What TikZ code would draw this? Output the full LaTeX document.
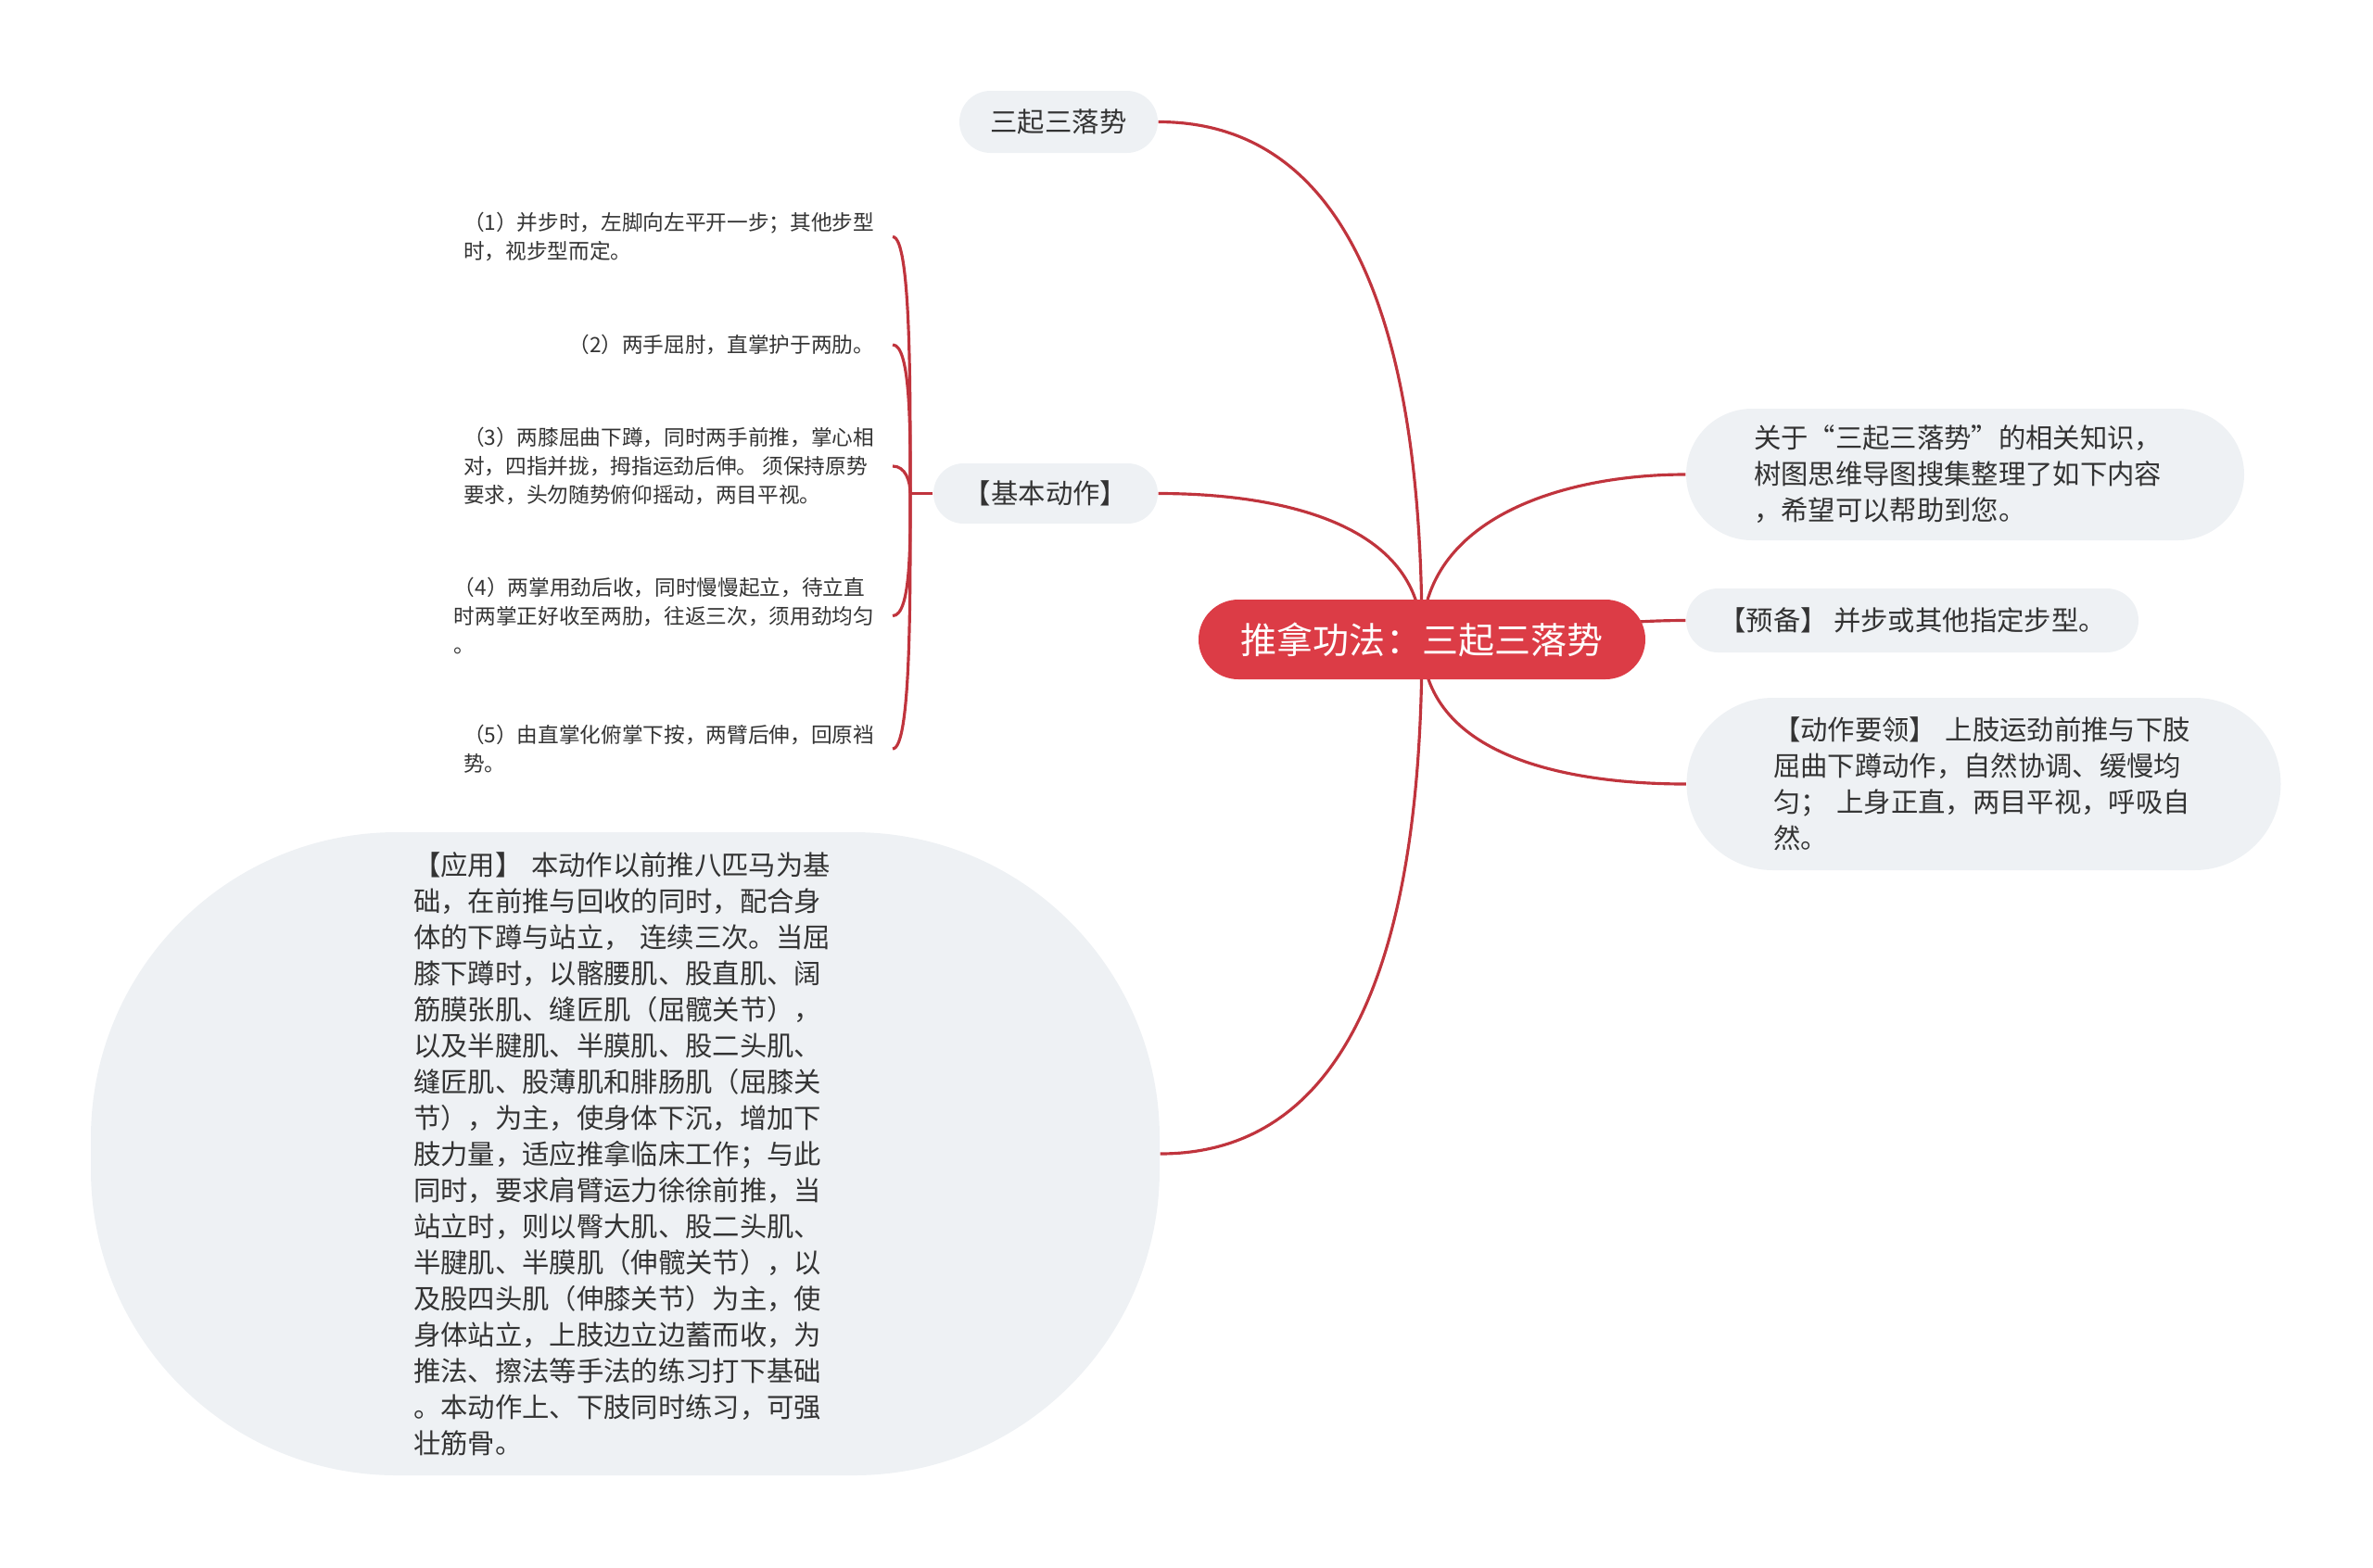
\documentclass[tikz,border=0pt]{standalone}
\usepackage{fontspec}
\setmainfont{Noto Sans CJK SC}
\usepackage{xcolor}
\usetikzlibrary{backgrounds}

\definecolor{linered}{HTML}{C0343D}
\definecolor{rootred}{HTML}{DC3C46}
\definecolor{topicgrey}{HTML}{EEF1F4}
\definecolor{textgrey}{HTML}{333333}

\begin{document}
\begin{tikzpicture}[
        link/.style={draw=linered, line width=0.9pt},
        topic/.style={fill=topicgrey, text=textgrey, align=left, inner ysep=0pt, font=\fontsize{8.35}{11.1}\selectfont},
        leaf/.style={anchor=east, text=textgrey, align=left, inner xsep=0.19cm, font=\fontsize{6.45}{8.8}\selectfont}
    ]
        \useasboundingbox (0,0) rectangle (25.6,-16.91);

        %% Root
        \node (root) [fill=rootred, text=white, rounded corners=0.43cm, minimum width=4.82cm, minimum height=0.86cm, font=\fontsize{11.1}{14}\selectfont] at (15.34,-6.90) {推拿功法：三起三落势};

        %% Left topics
        \node (sanqi) [topic, minimum width=2.14cm, minimum height=0.67cm, rounded corners=0.335cm] at (11.42,-1.315) {三起三落势};
        \node (jiben) [topic, minimum width=2.42cm, minimum height=0.65cm, rounded corners=0.325cm] at (11.28,-5.325) {【基本动作】};
        \node (yingyong) [topic, text width=4.57cm, minimum width=11.53cm, minimum height=6.94cm, rounded corners=3.3cm] at (6.745,-12.45) {【应用】 本动作以前推八匹马为基\\础，在前推与回收的同时，配合身\\体的下蹲与站立， 连续三次。当屈\\膝下蹲时，以髂腰肌、股直肌、阔\\筋膜张肌、缝匠肌（屈髋关节），\\以及半腱肌、半膜肌、股二头肌、\\缝匠肌、股薄肌和腓肠肌（屈膝关\\节），为主，使身体下沉，增加下\\肢力量，适应推拿临床工作；与此\\同时，要求肩臂运力徐徐前推，当\\站立时，则以臀大肌、股二头肌、\\半腱肌、半膜肌（伸髋关节），以\\及股四头肌（伸膝关节）为主，使\\身体站立，上肢边立边蓄而收，为\\推法、擦法等手法的练习打下基础\\。本动作上、下肢同时练习，可强\\壮筋骨。};

        %% Right topics
        \node (intro) [topic, text width=4.56cm, minimum width=6.02cm, minimum height=1.42cm, rounded corners=0.71cm] at (21.20,-5.12) {关于“三起三落势”的相关知识，\\树图思维导图搜集整理了如下内容\\，希望可以帮助到您。};
        \node (yubei) [topic, minimum width=4.88cm, minimum height=0.69cm, rounded corners=0.345cm] at (20.63,-6.695) {【预备】 并步或其他指定步型。};
        \node (yaoling) [topic, text width=4.54cm, minimum width=6.41cm, minimum height=1.86cm, rounded corners=0.93cm] at (21.40,-8.46) {【动作要领】 上肢运劲前推与下肢\\屈曲下蹲动作，自然协调、缓慢均\\匀； 上身正直，两目平视，呼吸自\\然。};

        %% Basic movements
        \node (l1) [leaf] at (9.63,-2.555) {（1）并步时，左脚向左平开一步；其他步型\\时，视步型而定。};
        \node (l2) [leaf] at (9.63,-3.72) {（2）两手屈肘，直掌护于两肋。};
        \node (l3) [leaf] at (9.63,-5.03) {（3）两膝屈曲下蹲，同时两手前推，掌心相\\对，四指并拢，拇指运劲后伸。 须保持原势\\要求，头勿随势俯仰摇动，两目平视。};
        \node (l4) [leaf] at (9.63,-6.645) {（4）两掌用劲后收，同时慢慢起立，待立直\\时两掌正好收至两肋，往返三次，须用劲均匀\\。};
        \node (l5) [leaf] at (9.63,-8.08) {（5）由直掌化俯掌下按，两臂后伸，回原裆\\势。};
        \coordinate (jb) at (9.82,-5.325);

        %% Links to the leaves
        \draw [link] (jiben.west) -- (jb);
        \foreach \l in {l1,l2,l3}
            \draw [link] (jb) to [out=90, in=0, in max distance=0.2cm] (\l.east);
        \foreach \l in {l4,l5}
            \draw [link] (jb) to [out=-90, in=0, in max distance=0.2cm] (\l.east);

        %% Links from the root
        \begin{scope}[on background layer]
            \draw [link] (root.center) to [out=90, in=0] (sanqi.east);
            \draw [link] (root.center) to [out=90, in=0] (jiben.east);
            \draw [link] (root.center) to [out=90, in=180] (intro.west);
            \draw [link] (root.center) to [out=0, in=180] (yubei.west);
            \draw [link] (root.center) to [out=-90, in=180] (yaoling.west);
            \draw [link] (root.center) to [out=-90, in=0] (yingyong.east);
        \end{scope}

\end{tikzpicture}
\end{document}
